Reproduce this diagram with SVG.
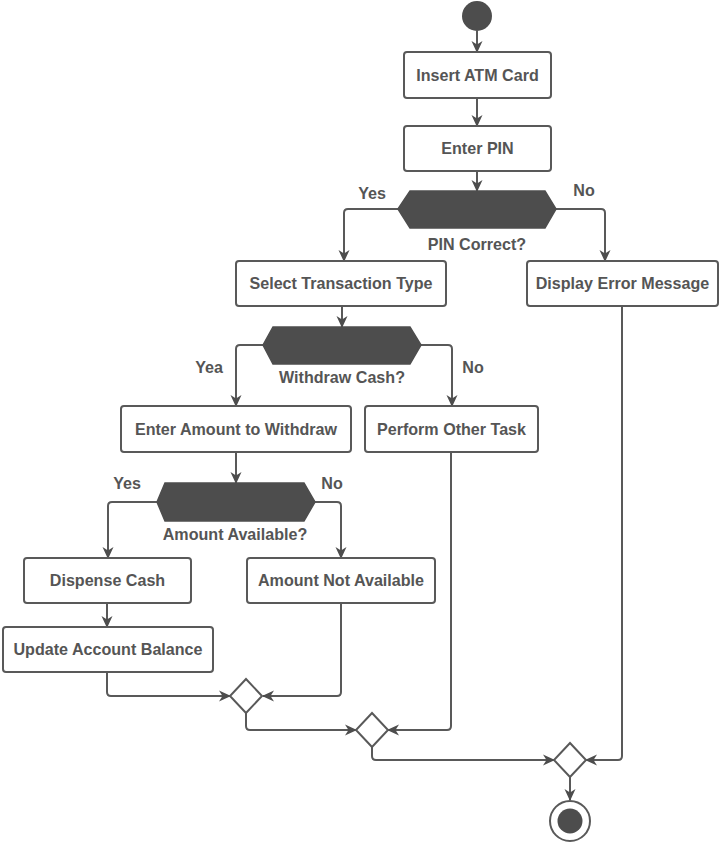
<svg xmlns="http://www.w3.org/2000/svg" width="720" height="843" viewBox="0 0 720 843">
<defs>
<style>
.box{fill:#fff;stroke:#595959;stroke-width:2}
.hex{fill:#4d4d4d;stroke:#4d4d4d;stroke-width:1.5}
.dia{fill:#fff;stroke:#595959;stroke-width:2}
.t{font-family:"Liberation Sans",Arial,sans-serif;font-weight:bold;font-size:16.1px;fill:#555;text-anchor:middle}
.c{fill:none;stroke:#595959;stroke-width:2;marker-end:url(#ah)}
.dot{fill:#4d4d4d}
</style>
<marker id="ah" viewBox="0 0 12 12" refX="11" refY="6" markerWidth="12" markerHeight="12" markerUnits="userSpaceOnUse" orient="auto">
<path d="M0,0.5 L12,6 L0,11.5 L3.5,6 Z" fill="#4d4d4d"/>
</marker>
</defs>
<rect width="720" height="843" fill="#fff"/>
<g id="connectors">
<path class="c" d="M477,31 L477,52"/>
<path class="c" d="M477,98 L477,126"/>
<path class="c" d="M477,171 L477,191"/>
<path class="c" d="M398,209 L348,209 Q344,209 344,213 L344,261"/>
<path class="c" d="M556,209 L601,209 Q605,209 605,213 L605,261"/>
<path class="c" d="M342,306 L342,327"/>
<path class="c" d="M263,345 L240,345 Q236,345 236,349 L236,406"/>
<path class="c" d="M421,345 L448,345 Q452,345 452,349 L452,406"/>
<path class="c" d="M236,452 L236,483"/>
<path class="c" d="M157,502 L112,502 Q108,502 108,506 L108,558"/>
<path class="c" d="M315,502 L337,502 Q341,502 341,506 L341,558"/>
<path class="c" d="M107,603 L107,627"/>
<path class="c" d="M107,672 L107,692 Q107,696 111,696 L230,696"/>
<path class="c" d="M341,603 L341,692 Q341,696 337,696 L263,696"/>
<path class="c" d="M246,713 L246,726 Q246,730 250,730 L356,730"/>
<path class="c" d="M451,452 L451,726 Q451,730 447,730 L388,730"/>
<path class="c" d="M372,747 L372,756 Q372,760 376,760 L554,760"/>
<path class="c" d="M622,306 L622,756 Q622,760 618,760 L586,760"/>
<path class="c" d="M570,777 L570,800"/>
</g>
<g id="start"><circle class="dot" cx="477" cy="16" r="15"/></g>
<g id="insert-card"><rect class="box" x="404" y="52" width="147" height="46" rx="3"/><text class="t" x="477.5" y="80.5">Insert ATM Card</text></g>
<g id="enter-pin"><rect class="box" x="404" y="126" width="147" height="45" rx="3"/><text class="t" x="477.5" y="154">Enter PIN</text></g>
<g id="pin-correct"><polygon class="hex" points="398,209 410,191 545,191 556,209 545,228 410,228"/><text class="t" x="477" y="250">PIN Correct?</text><text class="t" x="372" y="199">Yes</text><text class="t" x="584" y="196">No</text></g>
<g id="select-type"><rect class="box" x="236" y="261" width="210" height="45" rx="3"/><text class="t" x="341" y="289">Select Transaction Type</text></g>
<g id="display-error"><rect class="box" x="527" y="261" width="191" height="45" rx="3"/><text class="t" x="622.5" y="289">Display Error Message</text></g>
<g id="withdraw-cash"><polygon class="hex" points="263,345 273,327 410,327 421,345 410,364 273,364"/><text class="t" x="342" y="383">Withdraw Cash?</text><text class="t" x="209" y="373">Yea</text><text class="t" x="473" y="373">No</text></g>
<g id="enter-amount"><rect class="box" x="121" y="406" width="230" height="46" rx="3"/><text class="t" x="236" y="434.5">Enter Amount to Withdraw</text></g>
<g id="other-task"><rect class="box" x="365" y="406" width="173" height="46" rx="3"/><text class="t" x="451.5" y="434.5">Perform Other Task</text></g>
<g id="amount-available"><polygon class="hex" points="157,502 165,483 304,483 315,502 304,521 165,521"/><text class="t" x="235" y="540">Amount Available?</text><text class="t" x="127" y="489">Yes</text><text class="t" x="332" y="489">No</text></g>
<g id="dispense"><rect class="box" x="24" y="558" width="167" height="45" rx="3"/><text class="t" x="107.5" y="586">Dispense Cash</text></g>
<g id="not-available"><rect class="box" x="247" y="558" width="188" height="45" rx="3"/><text class="t" x="341" y="586">Amount Not Available</text></g>
<g id="update-balance"><rect class="box" x="3" y="627" width="210" height="45" rx="3"/><text class="t" x="108" y="655">Update Account Balance</text></g>
<g id="merge1"><polygon class="dia" points="246,679 262,696 246,713 230,696"/></g>
<g id="merge2"><polygon class="dia" points="372,713 388,730 372,747 356,730"/></g>
<g id="merge3"><polygon class="dia" points="570,743 586,760 570,777 554,760"/></g>
<g id="end"><circle cx="570" cy="821" r="20" fill="#fff" stroke="#595959" stroke-width="2"/><circle class="dot" cx="570" cy="821" r="12.5"/></g>
</svg>
